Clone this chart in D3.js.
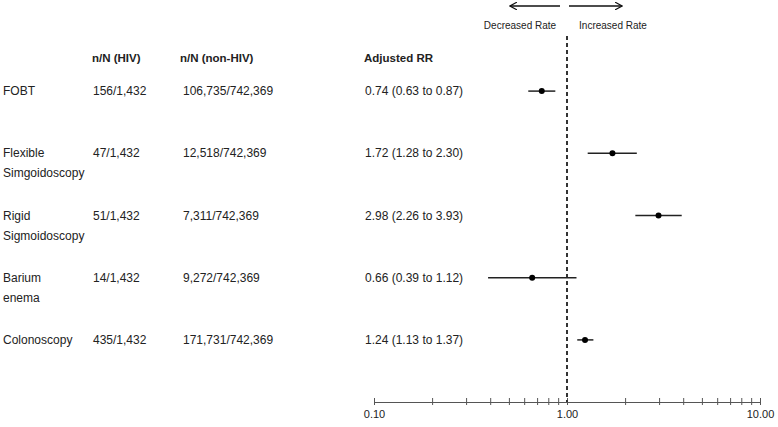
<!DOCTYPE html>
<html>
<head>
<meta charset="utf-8">
<script src="https://cdn.jsdelivr.net/npm/d3@7"></script>
<style>
  body { margin: 0; background: #fff; }
  text { font-family: "Liberation Sans", Arial, sans-serif; fill: #222; }
</style>
</head>
<body>
<div id="chart"></div>
<script>
// data
var categories = [["FOBT"], ["Flexible", "Simgoidoscopy"], ["Rigid", "Sigmoidoscopy"], ["Barium", "enema"], ["Colonoscopy"]];
var hivCounts = ["156/1,432", "47/1,432", "51/1,432", "14/1,432", "435/1,432"];
var nonHivCounts = ["106,735/742,369", "12,518/742,369", "7,311/742,369", "9,272/742,369", "171,731/742,369"];
var rr = [0.74, 1.72, 2.98, 0.66, 1.24];
var lower = [0.63, 1.28, 2.26, 0.39, 1.13];
var upper = [0.87, 2.30, 3.93, 1.12, 1.37];
var tickValues = [0.1, 0.2, 0.3, 0.4, 0.5, 0.6, 0.7, 0.8, 0.9, 1, 2, 3, 4, 5, 6, 7, 8, 9, 10];
var majorTicks = [0.1, 1, 10];

var width = 778, height = 427;
var svg = d3.select("#chart").append("svg").attr("width", width).attr("height", height);

var x = d3.scaleLog().domain([0.1, 10]).range([374, 760]);
var y = d3.scaleBand().domain(d3.range(categories.length)).range([60, 371]);
var rowY = function(i) { return y(i) + y.bandwidth() / 2; };
var fmt = d3.format(".2f");

// column headers
var headers = [{t: "n/N (HIV)", x: 92}, {t: "n/N (non-HIV)", x: 180}, {t: "Adjusted RR", x: 364}];
svg.selectAll(".hdr").data(headers).enter().append("text")
  .attr("x", function(d) { return d.x; }).attr("y", 62)
  .attr("font-size", 11.5).attr("font-weight", "bold")
  .text(function(d) { return d.t; });

// rows of text
var rows = svg.selectAll(".row").data(d3.range(categories.length)).enter().append("g")
  .attr("transform", function(i) { return "translate(0," + (rowY(i) + 4) + ")"; })
  .attr("font-size", 12);

rows.append("text").attr("x", 3)
  .each(function(i) {
    var t = d3.select(this);
    categories[i].forEach(function(line, k) {
      t.append("tspan").attr("x", 3).attr("dy", k === 0 ? 0 : 20).text(line);
    });
  });
rows.append("text").attr("x", 93).text(function(i) { return hivCounts[i]; });
rows.append("text").attr("x", 183).text(function(i) { return nonHivCounts[i]; });
rows.append("text").attr("x", 365).text(function(i) {
  return fmt(rr[i]) + " (" + fmt(lower[i]) + " to " + fmt(upper[i]) + ")";
});

// axis
var axis = svg.append("g").attr("transform", "translate(0,402)")
  .call(d3.axisBottom(x).tickValues(tickValues).tickSize(-4).tickSizeOuter(0)
    .tickFormat(function(d) { return majorTicks.indexOf(d) >= 0 ? fmt(d) : ""; }));
axis.select(".domain").attr("stroke", "#555");
axis.selectAll(".tick line").attr("stroke", "#555").attr("y1", 3).attr("y2", -4);
axis.selectAll(".tick text").attr("font-size", 11).attr("dy", 0).attr("y", 16)
  .attr("font-family", "Liberation Sans, Arial, sans-serif").attr("fill", "#222");

// reference line at RR = 1
svg.append("line")
  .attr("x1", x(1)).attr("x2", x(1)).attr("y1", 36).attr("y2", 402)
  .attr("stroke", "#333").attr("stroke-width", 2).attr("stroke-dasharray", "4,3");

// confidence intervals and points
svg.selectAll(".ci").data(d3.range(rr.length)).enter().append("line")
  .attr("x1", function(i) { return x(lower[i]); })
  .attr("x2", function(i) { return x(upper[i]); })
  .attr("y1", rowY).attr("y2", rowY)
  .attr("stroke", "#222").attr("stroke-width", 1.5);
svg.selectAll(".pt").data(d3.range(rr.length)).enter().append("circle")
  .attr("cx", function(i) { return x(rr[i]); })
  .attr("cy", rowY).attr("r", 3).attr("fill", "#000");

// direction arrows
var defs = svg.append("defs");
defs.append("marker").attr("id", "arrow").attr("viewBox", "0 0 10 10")
  .attr("refX", 9).attr("refY", 5).attr("markerWidth", 8).attr("markerHeight", 8)
  .attr("markerUnits", "userSpaceOnUse").attr("orient", "auto")
  .append("path").attr("d", "M0,0 L9,5 L0,10").attr("fill", "none").attr("stroke", "#111").attr("stroke-width", 1.5);

svg.append("line").attr("x1", 560).attr("x2", 510).attr("y1", 6).attr("y2", 6)
  .attr("stroke", "#111").attr("stroke-width", 1.3).attr("marker-end", "url(#arrow)");
svg.append("line").attr("x1", 569).attr("x2", 622).attr("y1", 6).attr("y2", 6)
  .attr("stroke", "#111").attr("stroke-width", 1.3).attr("marker-end", "url(#arrow)");

svg.append("text").attr("x", 520).attr("y", 29).attr("text-anchor", "middle")
  .attr("font-size", 10).attr("fill", "#000").text("Decreased Rate");
svg.append("text").attr("x", 613).attr("y", 29).attr("text-anchor", "middle")
  .attr("font-size", 10).attr("fill", "#000").text("Increased Rate");
</script>
</body>
</html>
